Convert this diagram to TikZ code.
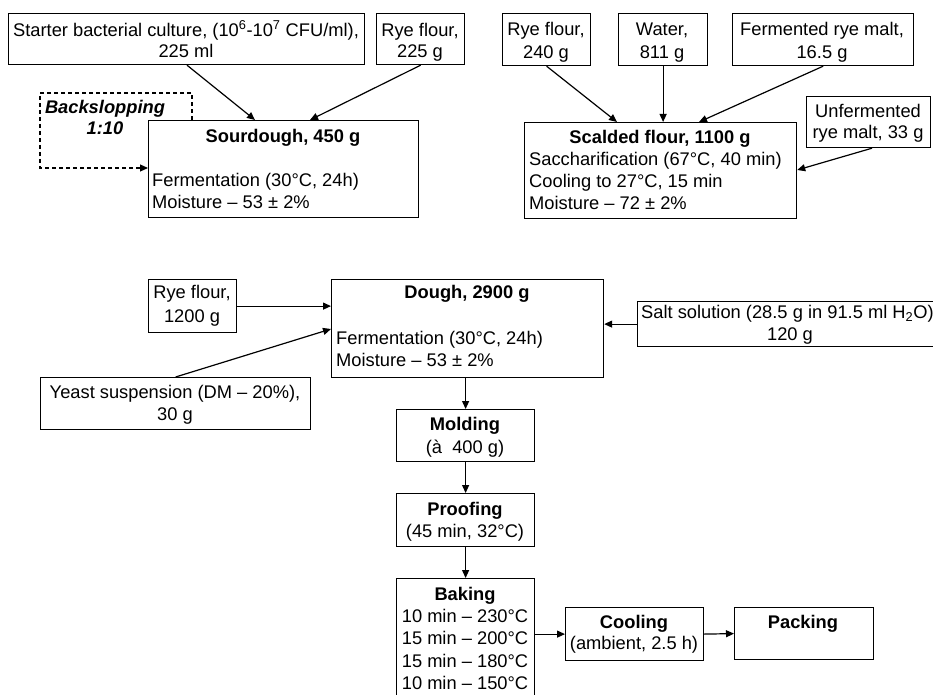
\documentclass[tikz,border=0pt]{standalone}
\usepackage{fontspec}
\setmainfont{Liberation Sans}
\usetikzlibrary{calc,arrows.meta}
\begin{document}
\begin{tikzpicture}[x=1pt,y=-1pt,
  font=\fontsize{18.3}{22}\selectfont,
  box/.style={draw, line width=1.2pt, inner sep=0pt, anchor=north west},
  txt/.style={inner sep=0pt, anchor=mid, yshift=-2.5pt},
  txtl/.style={inner sep=0pt, anchor=mid west, yshift=-2.5pt},
  arr/.style={line width=1.2pt, -{Triangle[length=8pt,width=7pt]}},
  darr/.style={line width=1.2pt, dash pattern=on 4pt off 3pt, -{Triangle[length=8pt,width=7pt]}}]
\useasboundingbox (0,0) rectangle (933,695);
% boxes
\node[box, minimum width=356pt, minimum height=51pt] (starter) at (8,13) {};
\node[box, minimum width=88pt, minimum height=51pt] (rye225) at (376,13) {};
\node[box, minimum width=270pt, minimum height=97pt] (sour) at (148,120) {};
\node[box, minimum width=88pt, minimum height=52pt] (rye240) at (502,13) {};
\node[box, minimum width=89pt, minimum height=52pt] (water) at (618,13) {};
\node[box, minimum width=181pt, minimum height=52pt] (ferm) at (732,13) {};
\node[box, minimum width=124pt, minimum height=51pt] (unf) at (806,96) {};
\node[box, minimum width=272pt, minimum height=96pt] (scal) at (524,122) {};
\node[box, minimum width=88pt, minimum height=53pt] (rye1200) at (148,279) {};
\node[box, minimum width=272pt, minimum height=98pt] (dough) at (331,279) {};
\node[box, minimum width=270pt, minimum height=52pt] (yeast) at (40,377) {};
\node[box, minimum width=303pt, minimum height=45pt] (salt) at (637,301) {};
\node[box, minimum width=138pt, minimum height=52pt] (mold) at (396,409) {};
\node[box, minimum width=138pt, minimum height=53pt] (proof) at (396,493) {};
\node[box, minimum width=138pt, minimum height=127pt] (bake) at (396,578) {};
\node[box, minimum width=138pt, minimum height=53pt] (cool) at (565,607) {};
\node[box, minimum width=139pt, minimum height=52pt] (pack) at (734,607) {};
% texts
\node[txt] (t1) at (186,31) {Starter bacterial culture, (10\textsuperscript{6}-10\textsuperscript{7} CFU/ml),};
\node[txt] (t2) at (186,52) {225 ml};
\node[txt] (t3) at (420,31) {Rye flour,};
\node[txt] (t4) at (420,52) {225 g};
\node[txt] (t5) at (105,108) {\bfseries\itshape Backslopping};
\node[txt] (t6) at (105,129) {\bfseries\itshape 1:10};
\node[txt] (t7) at (283,137) {\bfseries Sourdough, 450 g};
\node[txtl] (t8) at (152,181) {Fermentation (30°C, 24h)};
\node[txtl] (t9) at (152,203) {Moisture – 53 ± 2\%};
\node[txt] (t10) at (546,30) {Rye flour,};
\node[txt] (t11) at (546,53) {240 g};
\node[txt] (t12) at (662,30) {Water,};
\node[txt] (t13) at (662,53) {811 g};
\node[txt] (t14) at (822,30) {Fermented rye malt,};
\node[txt] (t15) at (822,53) {16.5 g};
\node[txt] (t16) at (868,112) {Unfermented};
\node[txt] (t17) at (868,133) {rye malt, 33 g};
\node[txt] (t18) at (660,138) {\bfseries Scalded flour, 1100 g};
\node[txtl] (t19) at (529,160) {Saccharification (67°C, 40 min)};
\node[txtl] (t20) at (529,182) {Cooling to 27°C, 15 min};
\node[txtl] (t21) at (529,204) {Moisture – 72 ± 2\%};
\node[txt] (t22) at (192,293) {Rye flour,};
\node[txt] (t23) at (192,317) {1200 g};
\node[txt] (t24) at (467,293) {\bfseries Dough, 2900 g};
\node[txtl] (t25) at (336,339) {Fermentation (30°C, 24h)};
\node[txtl] (t26) at (336,361) {Moisture – 53 ± 2\%};
\node[txt] (t27) at (175,393) {Yeast suspension (DM – 20\%),};
\node[txt] (t28) at (175,415) {30 g};
\node[txtl] (t29) at (641,313) {Salt solution (28.5 g in 91.5 ml H\textsubscript{2}O)};
\node[txt] (t30) at (790,335) {120 g};
\node[txt] (t31) at (465,425) {\bfseries Molding};
\node[txt] (t32) at (465,448) {(à~~400 g)};
\node[txt] (t33) at (465,510) {\bfseries Proofing};
\node[txt] (t34) at (465,532) {(45 min, 32°C)};
\node[txt] (t35) at (465,595) {\bfseries Baking};
\node[txt] (t36) at (465,617) {10 min – 230°C};
\node[txt] (t37) at (465,639) {15 min – 200°C};
\node[txt] (t38) at (465,662) {15 min – 180°C};
\node[txt] (t39) at (465,684) {10 min – 150°C};
\node[txt] (t40) at (634,623) {\bfseries Cooling};
\node[txt] (t41) at (634,644) {(ambient, 2.5 h)};
\node[txt] (t42) at (803,623) {\bfseries Packing};
% connectors
\draw[arr] ($(starter.south west)+(179,0)$) -- ($(sour.north west)+(107,0)$);
\draw[arr] (rye225.south) -- ($(sour.north west)+(162,0)$);
\coordinate (bsTL) at (40,93);
\coordinate (bsBL) at (40,168);
\draw[darr] ($(sour.north west)+(44,0)$) |- (bsTL) -- (bsBL) -- (sour.west |- bsBL);
\draw[arr] (rye240.south) -- ($(scal.north west)+(93,0)$);
\draw[arr] (water.south) -- (water.south |- scal.north);
\draw[arr] (ferm.south) -- ($(scal.north west)+(175,0)$);
\draw[arr] ($(unf.south west)+(66,0)$) -- ($(scal.north east)+(0,48)$);
\draw[arr] (rye1200.east) -- (dough.west |- rye1200.east);
\draw[arr] (yeast.north) -- ($(dough.north west)+(0,50)$);
\draw[arr] (salt.west) -- (dough.east |- salt.west);
\draw[arr] (mold.north |- dough.south) -- (mold.north);
\draw[arr] (mold.south) -- (proof.north);
\draw[arr] (proof.south) -- (bake.north);
\draw[arr] (bake.east |- cool.west) -- (cool.west);
\draw[arr] (cool.east) -- (pack.west);
\end{tikzpicture}
\end{document}
